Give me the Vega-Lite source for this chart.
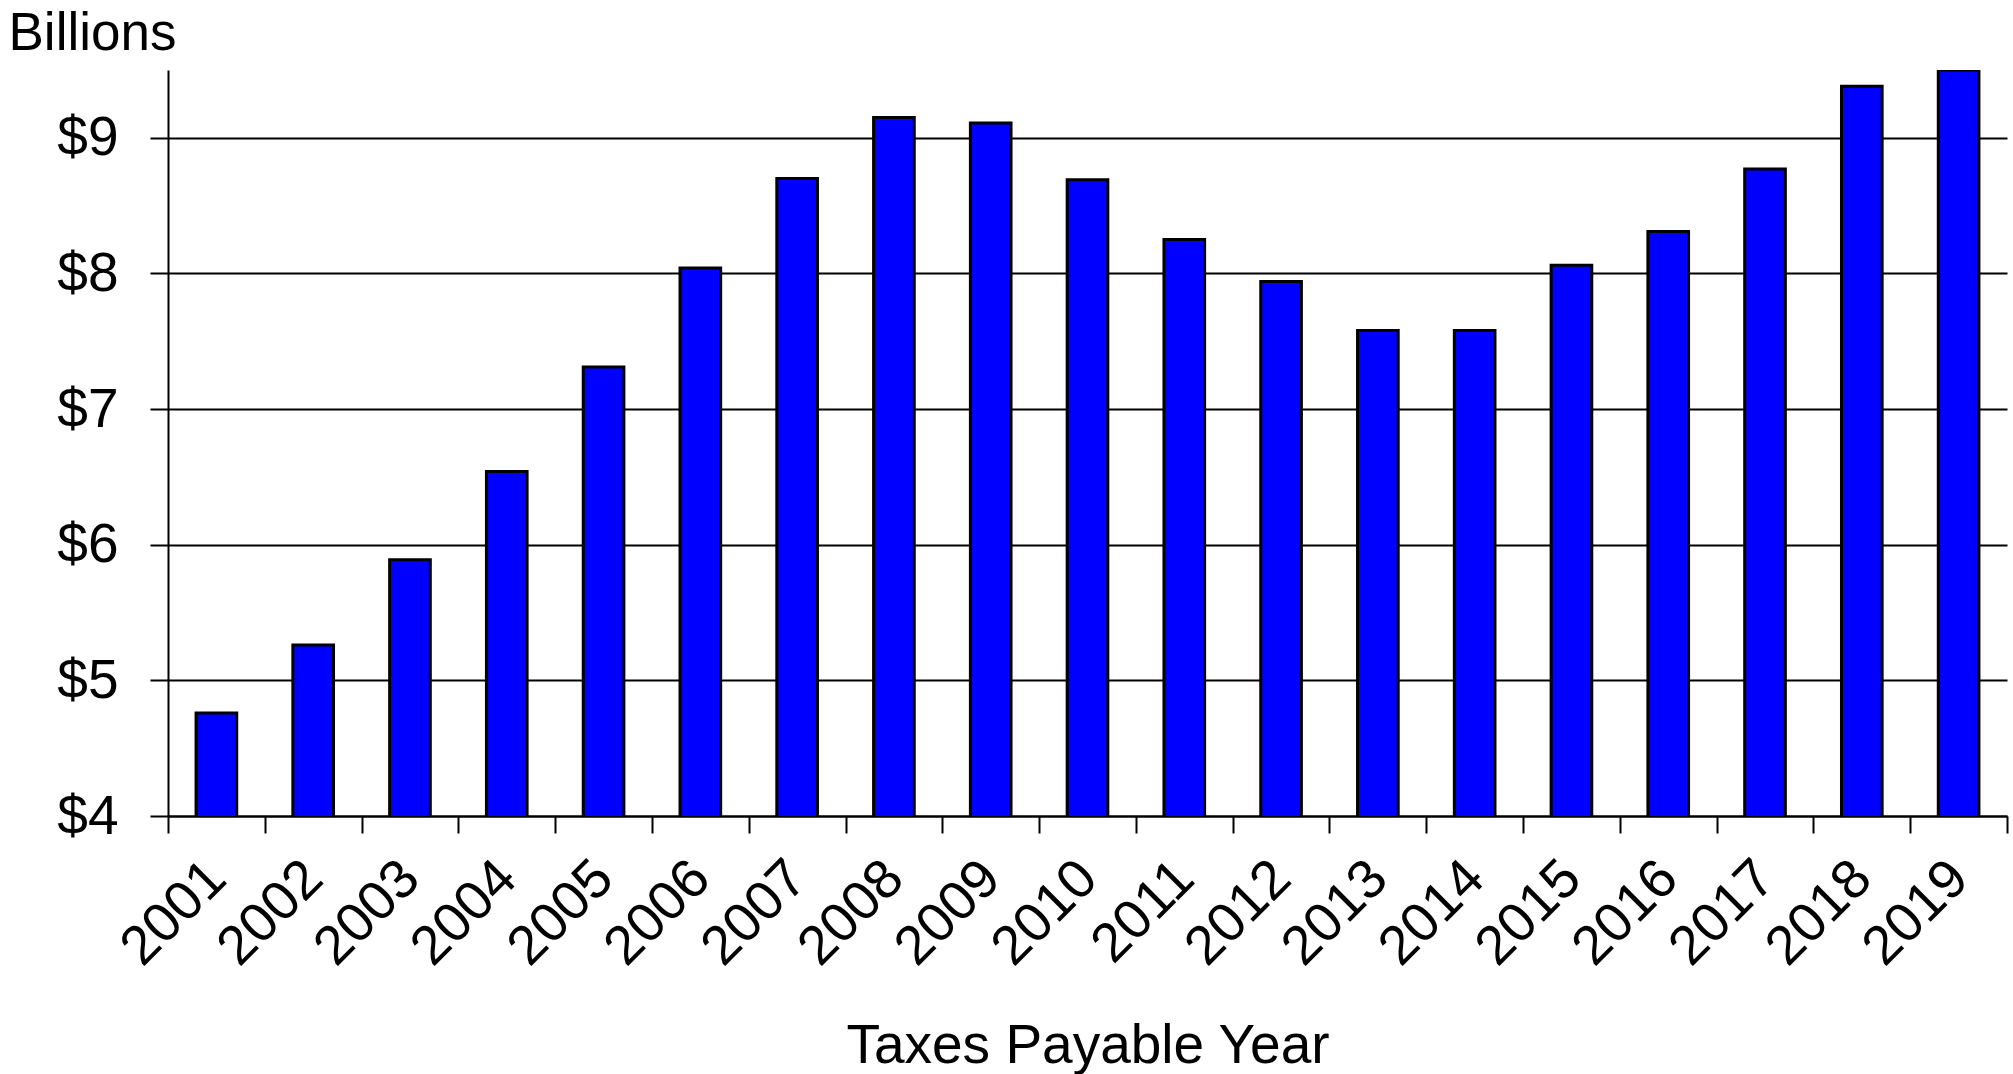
{
  "$schema": "https://vega.github.io/schema/vega-lite/v6.json",
  "autosize": {"type": "none"},
  "padding": {"left": 168, "top": 70, "right": 6, "bottom": 258},
  "width": 1839,
  "height": 746,
  "background": "white",
  "config": {
    "view": {"stroke": null},
    "font": "Liberation Sans",
    "axis": {"labelFont": "Liberation Sans", "titleFont": "Liberation Sans", "labelColor": "black", "titleColor": "black", "titleFontWeight": "normal"}
  },
  "data": {
    "values": [
      {"year": "2001", "value": 4.76},
      {"year": "2002", "value": 5.26},
      {"year": "2003", "value": 5.89},
      {"year": "2004", "value": 6.54},
      {"year": "2005", "value": 7.31},
      {"year": "2006", "value": 8.04},
      {"year": "2007", "value": 8.70},
      {"year": "2008", "value": 9.15},
      {"year": "2009", "value": 9.11},
      {"year": "2010", "value": 8.69},
      {"year": "2011", "value": 8.25},
      {"year": "2012", "value": 7.94},
      {"year": "2013", "value": 7.58},
      {"year": "2014", "value": 7.58},
      {"year": "2015", "value": 8.06},
      {"year": "2016", "value": 8.31},
      {"year": "2017", "value": 8.77},
      {"year": "2018", "value": 9.38},
      {"year": "2019", "value": 9.5}
    ]
  },
  "mark": {"type": "bar", "fill": "#0000FF", "stroke": "black", "strokeWidth": 3, "width": {"band": 0.42}, "clip": true},
  "encoding": {
    "x": {
      "field": "year",
      "type": "ordinal",
      "scale": {"paddingInner": 0, "paddingOuter": 0},
      "axis": {
        "title": "Taxes Payable Year",
        "titleFontSize": 55,
        "titleBaseline": "alphabetic",
        "titleY": 246,
        "labelFontSize": 55,
        "labelAngle": -45,
        "labelAlign": "right",
        "labelBaseline": "middle",
        "labelPadding": 36,
        "tickBand": "extent",
        "tickSize": 17,
        "tickWidth": 2,
        "tickColor": "black",
        "domainColor": "black",
        "domainWidth": 2,
        "grid": false
      }
    },
    "y": {
      "field": "value",
      "type": "quantitative",
      "scale": {"domain": [4, 9.5], "nice": false, "zero": false},
      "axis": {
        "values": [4, 5, 6, 7, 8, 9],
        "labelExpr": "'$' + datum.value",
        "labelFontSize": 55,
        "labelPadding": 32,
        "tickSize": 18,
        "tickWidth": 2,
        "tickColor": "black",
        "domainColor": "black",
        "domainWidth": 2,
        "grid": true,
        "gridColor": "black",
        "gridWidth": 2,
        "gridOpacity": 1,
        "title": "Billions",
        "titleFontSize": 53,
        "titleAngle": 0,
        "titleAlign": "left",
        "titleBaseline": "alphabetic",
        "titleX": -160,
        "titleY": -21
      }
    }
  }
}
